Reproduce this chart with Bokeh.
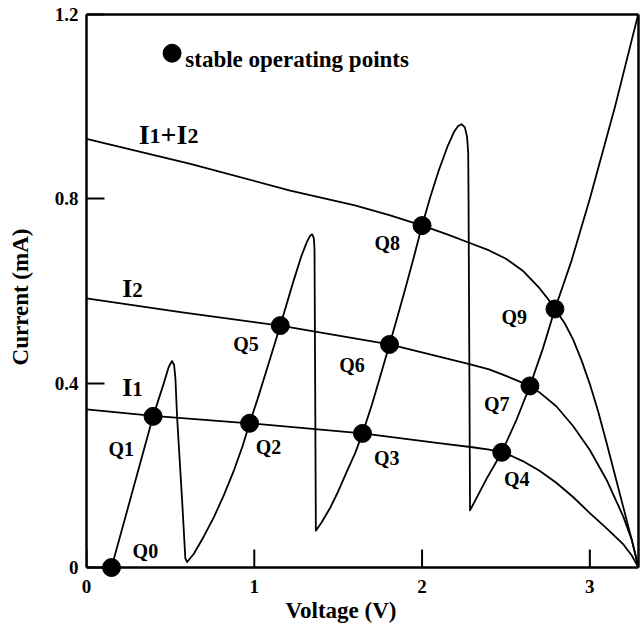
from bokeh.plotting import figure
from bokeh.models import Range1d, FixedTicker, Title, LinearAxis, Span
from bokeh.core.properties import value
from bokeh.embed import file_html
from bokeh.resources import INLINE

# ---------------- data ----------------
# device I-V characteristic (multi-peak sawtooth), Voltage (V) / Current (mA)
iv_v = [0.149, 0.397, 0.46, 0.49, 0.51, 0.522, 0.53, 0.54, 0.57, 0.589, 0.60,
        0.64, 0.70, 0.76, 0.82, 0.88, 0.93, 0.972, 1.02, 1.075, 1.155, 1.234, 1.28, 1.313,
        1.333, 1.345, 1.355, 1.359, 1.367,
        1.40, 1.45, 1.50, 1.55, 1.60, 1.645, 1.70, 1.75, 1.806, 1.85, 1.90, 1.95, 2.0,
        2.05, 2.10, 2.15, 2.19, 2.215, 2.235, 2.255, 2.268, 2.275, 2.277, 2.286,
        2.385, 2.475, 2.56, 2.643, 2.72, 2.792, 2.891, 3.0, 3.15, 3.288]
iv_i = [0.0, 0.328, 0.399, 0.435, 0.448, 0.44, 0.41, 0.326, 0.145, 0.02, 0.012,
        0.03, 0.068, 0.11, 0.158, 0.212, 0.263, 0.313, 0.366, 0.43, 0.525, 0.622, 0.675, 0.706,
        0.72, 0.723, 0.715, 0.69, 0.08,
        0.097, 0.128, 0.165, 0.207, 0.247, 0.291, 0.352, 0.414, 0.484, 0.54, 0.605, 0.672, 0.742,
        0.805, 0.862, 0.912, 0.945, 0.958, 0.962, 0.955, 0.935, 0.9, 0.8, 0.124,
        0.193, 0.25, 0.318, 0.394, 0.475, 0.561, 0.666, 0.80, 1.0, 1.2]

# load curves
i1_v = [0, 0.397, 0.972, 1.645, 2.1, 2.3, 2.4, 2.475, 2.54, 2.6, 2.7, 2.8, 2.9, 3.0,
        3.1, 3.2, 3.25, 3.29]
i1_i = [0.343, 0.329, 0.313, 0.291, 0.270, 0.261, 0.256, 0.250, 0.241, 0.231, 0.210, 0.184,
        0.153, 0.118, 0.085, 0.05, 0.026, 0.0]

i2_v = [0, 0.56, 1.155, 1.806, 2.276, 2.4, 2.5, 2.643, 2.7, 2.8, 2.9, 3.0, 3.1, 3.2,
        3.25, 3.29]
i2_i = [0.584, 0.554, 0.525, 0.484, 0.442, 0.43, 0.416, 0.394, 0.38, 0.35, 0.307, 0.255,
        0.19, 0.11, 0.06, 0.0]

i12_v = [0, 0.619, 1.214, 1.6, 1.81, 2.002, 2.15, 2.3, 2.4, 2.5, 2.6, 2.7, 2.75, 2.792,
         2.85, 2.9, 2.95, 3.0, 3.05, 3.1, 3.15, 3.2, 3.25, 3.29]
i12_i = [0.930, 0.876, 0.818, 0.786, 0.764, 0.742, 0.723, 0.702, 0.688, 0.670, 0.644, 0.606,
         0.583, 0.561, 0.53, 0.495, 0.45, 0.398, 0.338, 0.27, 0.2, 0.13, 0.06, 0.0]

# stable operating points
q_names = ["Q0", "Q1", "Q2", "Q3", "Q4", "Q5", "Q6", "Q7", "Q8", "Q9"]
q_v = [0.149, 0.397, 0.972, 1.645, 2.475, 1.155, 1.806, 2.643, 2.0, 2.792]
q_i = [0.0, 0.328, 0.313, 0.291, 0.25, 0.525, 0.484, 0.394, 0.742, 0.561]
q_lab_v = [0.351, 0.207, 1.085, 1.79, 2.564, 0.951, 1.582, 2.445, 1.793, 2.549]
q_lab_i = [0.035, 0.258, 0.261, 0.237, 0.192, 0.484, 0.44, 0.355, 0.704, 0.543]

# curve name labels: (pieces, anchor V, anchor I)
curve_label_pieces = [["I", "1", "+", "I", "2"], ["I", "2"], ["I", "1"]]
curve_label_v = [0.311, 0.2125, 0.2125]
curve_label_i = [0.939, 0.605, 0.39]

x_ticks = [0, 1, 2, 3]
x_tick_labels = ["0", "1", "2", "3"]
y_ticks = [0, 0.4, 0.8, 1.2]
y_tick_labels = ["0", "0.4", "0.8", "1.2"]

legend_text = "stable operating points"
x_title = "Voltage (V)"
y_title = "Current (mA)"

# ---------------- styling ----------------
FONT = "Liberation Serif"
LW = 1.8
X_MAX, Y_MAX = 3.29, 1.2
Y_PAD = 0.026        # small room under the axis so the Q0 dot is not cut
TICK_LEN = 0.039     # inward x tick length (about 18 px)

p = figure(width=641, height=636, x_range=Range1d(0, X_MAX), y_range=Range1d(-Y_PAD, Y_MAX),
           output_backend="svg", toolbar_location=None,
           min_border_left=86, min_border_right=3, min_border_top=14, min_border_bottom=57,
           background_fill_color="white", border_fill_color="white")
p.grid.visible = False
p.outline_line_color = None

for ax in (p.xaxis, p.yaxis):
    ax.major_tick_in = 18
    ax.major_tick_out = 0
    ax.minor_tick_line_color = None
    ax.minor_tick_out = 0
    ax.axis_line_width = 2.5
    ax.axis_line_color = "black"
    ax.major_tick_line_width = 2
    ax.major_tick_line_color = "black"
    ax.major_label_text_font = FONT
    ax.major_label_text_font_style = "bold"
    ax.major_label_text_font_size = "19px"
    ax.major_label_text_color = "black"

# x axis: labels only at the frame bottom
p.xaxis.ticker = FixedTicker(ticks=x_ticks)
p.xaxis.major_label_overrides = dict(zip(x_ticks, x_tick_labels))
p.xaxis.axis_line_color = None
p.xaxis.major_tick_line_color = None
p.xaxis.major_tick_in = 0
p.xaxis.major_label_standoff = 0

# x axis line at I = 0 and inward ticks
p.add_layout(Span(location=0, dimension="width", line_color="black", line_width=2.5))
p.segment(x0=x_ticks, y0=[0] * len(x_ticks), x1=x_ticks, y1=[TICK_LEN] * len(x_ticks),
          line_color="black", line_width=2)

p.yaxis.ticker = FixedTicker(ticks=y_ticks)
p.yaxis.major_label_overrides = dict(zip(y_ticks, y_tick_labels))
p.yaxis.bounds = (0, Y_MAX)
p.yaxis.major_label_standoff = 8

p.yaxis.axis_label = y_title
p.yaxis.axis_label_text_font = FONT
p.yaxis.axis_label_text_font_style = "bold"
p.yaxis.axis_label_text_font_size = "23px"
p.yaxis.axis_label_text_color = "black"
p.yaxis.axis_label_standoff = 19

# plain frame lines on top and right
for side, bnds in (("above", (0, X_MAX)), ("right", (0, Y_MAX))):
    fa = LinearAxis(ticker=FixedTicker(ticks=[]), bounds=bnds,
                    axis_line_width=2.5, axis_line_color="black",
                    major_tick_out=0, major_tick_in=0, minor_tick_out=0, minor_tick_in=0,
                    major_label_standoff=0)
    p.add_layout(fa, side)

p.add_layout(Title(text=x_title, align="left", offset=199, standoff=1,
                   text_font=FONT, text_font_style="bold", text_font_size="23px",
                   text_color="black"), "below")

# curves
p.line(iv_v, iv_i, line_color="black", line_width=LW, line_join="round")
p.line(i1_v, i1_i, line_color="black", line_width=LW, line_join="round")
p.line(i2_v, i2_i, line_color="black", line_width=LW, line_join="round")
p.line(i12_v, i12_i, line_color="black", line_width=LW, line_join="round")

# operating points
p.scatter(q_v, q_i, size=18, color="black")
p.text(q_lab_v, q_lab_i, text=q_names, text_font=value(FONT), text_font_style="bold",
       text_font_size="20px", text_align="center", text_baseline="middle", text_color="black")

# curve name labels with subscript digits
WID = {"I": 0.389, "1": 0.5, "2": 0.5, "+": 0.57}
for k, pieces in enumerate(curve_label_pieces):
    big = 28 if len(pieces) > 2 else 26
    small = 22 if len(pieces) > 2 else 21
    bx, bt = [], []
    sx, st = [], []
    off = 0.0
    for ch in pieces:
        if ch.isdigit():
            sx.append(off); st.append(ch)
            off += WID[ch] * small
        else:
            bx.append(off); bt.append(ch)
            off += WID[ch] * big
    n_b, n_s = len(bt), len(st)
    p.text([curve_label_v[k]] * n_b, [curve_label_i[k]] * n_b, text=bt, x_offset=bx,
           text_font=value(FONT), text_font_style="bold", text_font_size=f"{big}px",
           text_align="left", text_baseline="alphabetic", text_color="black")
    p.text([curve_label_v[k]] * n_s, [curve_label_i[k]] * n_s, text=st, x_offset=sx,
           y_offset=[1.5] * n_s,
           text_font=value(FONT), text_font_style="bold", text_font_size=f"{small}px",
           text_align="left", text_baseline="alphabetic", text_color="black")

# legend
p.scatter([0.51], [1.116], size=18, color="black")
p.text([0.589], [1.102], text=[legend_text], text_font=value(FONT), text_font_style="bold",
       text_font_size="23px", text_align="left", text_baseline="alphabetic", text_color="black")

open("out.html", "w").write(file_html(p, INLINE))
